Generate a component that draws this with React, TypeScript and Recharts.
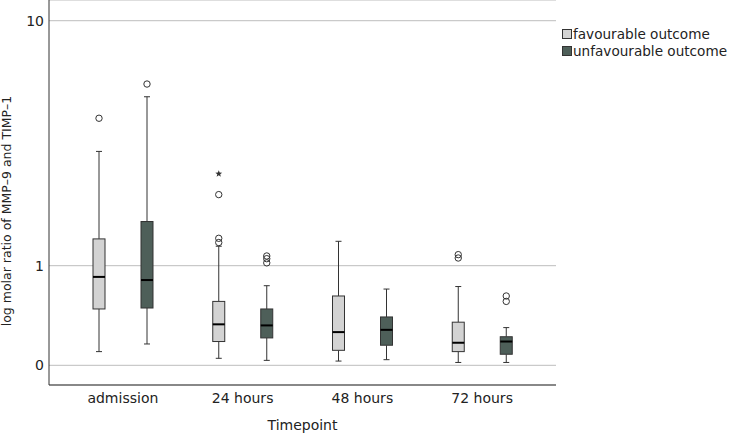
import React from "react";
import { ComposedChart, Bar, XAxis, YAxis, CartesianGrid } from "recharts";

// timepoints
const categories = ["admission", "24 hours", "48 hours", "72 hours"];

// favourable outcome: whiskers, quartiles, median, outliers (o) and extremes (*)
const favLow = [0.1, 0.05, 0.03, 0.02];
const favQ1 = [0.48, 0.18, 0.11, 0.1];
const favMed = [0.85, 0.33, 0.26, 0.17];
const favQ3 = [1.41, 0.56, 0.62, 0.35];
const favHigh = [3.43, 1.29, 1.37, 0.73];
const favOutliers = [[4.58], [2.28, 1.42, 1.35], [], [1.16, 1.11]];
const favExtremes = [[], [2.79], [], []];

// unfavourable outcome
const unfavLow = [0.16, 0.035, 0.04, 0.02];
const unfavQ1 = [0.49, 0.21, 0.15, 0.08];
const unfavMed = [0.81, 0.32, 0.28, 0.18];
const unfavQ3 = [1.72, 0.48, 0.4, 0.22];
const unfavHigh = [5.48, 0.74, 0.7, 0.3];
const unfavOutliers = [[6.08], [1.14, 1.1, 1.04], [], [0.62, 0.56]];
const unfavExtremes = [[], [], [], []];

const yTickValues = [0, 1, 10];

const FAV = "#d3d3d3";
const UNFAV = "#4e5f59";
const INK = "#333";
const FONT = "DejaVu Sans, sans-serif";

// axis is log10(1 + x)
const tf = (v: number) => Math.log10(1 + v);
const inv = (t: number) => Math.round(Math.pow(10, t) - 1);

const data = categories.map((name, i) => ({
  name,
  fav: [tf(favQ1[i]), tf(favQ3[i])],
  favStats: { low: favLow[i], q1: favQ1[i], med: favMed[i], q3: favQ3[i], high: favHigh[i], out: favOutliers[i], ext: favExtremes[i] },
  unfav: [tf(unfavQ1[i]), tf(unfavQ3[i])],
  unfavStats: { low: unfavLow[i], q1: unfavQ1[i], med: unfavMed[i], q3: unfavQ3[i], high: unfavHigh[i], out: unfavOutliers[i], ext: unfavExtremes[i] },
}));

function starPath(cx: number, cy: number, r: number) {
  const pts: string[] = [];
  for (let k = 0; k < 10; k++) {
    const rr = k % 2 === 0 ? r : r * 0.42;
    const a = -Math.PI / 2 + (k * Math.PI) / 5;
    pts.push(`${cx + rr * Math.cos(a)},${cy + rr * Math.sin(a)}`);
  }
  return `M${pts.join("L")}Z`;
}

const makeBox = (key: "favStats" | "unfavStats", fill: string) => (props: any) => {
  const { x, y, width, height, payload } = props;
  const s = payload[key];
  const top = Math.min(y, y + height);
  const h = Math.abs(height);
  const ppu = h / (tf(s.q3) - tf(s.q1));
  const py = (v: number) => top + (tf(s.q3) - tf(v)) * ppu;
  const cx = x + width / 2;
  const cap = 3;
  return (
    <g>
      <line x1={cx} x2={cx} y1={py(s.high)} y2={top} stroke={INK} />
      <line x1={cx - cap} x2={cx + cap} y1={py(s.high)} y2={py(s.high)} stroke={INK} />
      <line x1={cx} x2={cx} y1={top + h} y2={py(s.low)} stroke={INK} />
      <line x1={cx - cap} x2={cx + cap} y1={py(s.low)} y2={py(s.low)} stroke={INK} />
      <rect x={x} y={top} width={width} height={h} fill={fill} stroke={INK} strokeWidth={1} />
      <line x1={x} x2={x + width} y1={py(s.med)} y2={py(s.med)} stroke="#000" strokeWidth={2} />
      {s.out.map((v: number, i: number) => (
        <circle key={"o" + i} cx={cx} cy={py(v)} r={3.2} fill="none" stroke={INK} strokeWidth={1} />
      ))}
      {s.ext.map((v: number, i: number) => (
        <path key={"e" + i} d={starPath(cx, py(v), 3.6)} fill={INK} />
      ))}
    </g>
  );
};

const legendItems = [
  { label: "favourable outcome", color: FAV },
  { label: "unfavourable outcome", color: UNFAV },
];

function LegendBox() {
  return (
    <div style={{ position: "absolute", left: 562, top: 26, fontFamily: FONT, fontSize: 13.6, color: "#222" }}>
      {legendItems.map((it) => (
        <div key={it.label} style={{ display: "flex", alignItems: "center", height: 16.5 }}>
          <span style={{ width: 8, height: 8, background: it.color, border: `1px solid ${INK}`, marginRight: 1 }} />
          <span style={{ whiteSpace: "nowrap" }}>{it.label}</span>
        </div>
      ))}
    </div>
  );
}

export default function App() {
  return (
    <div style={{ position: "fixed", left: 0, top: 0, width: 731, height: 435, background: "#fff", overflow: "hidden" }}>
      <ComposedChart
        width={731}
        height={435}
        data={data}
        margin={{ top: 0, right: 175, left: 0, bottom: 0 }}
        barSize={12}
        barGap={36}
      >
        <CartesianGrid horizontal vertical={false} stroke="#bdbdbd" />
        <XAxis
          dataKey="name"
          height={50}
          padding={{ left: 14, right: 14 }}
          tickLine={false}
          tickSize={0}
          tickMargin={8}
          axisLine={{ stroke: INK }}
          tick={{ fontSize: 14, fontFamily: FONT, fill: "#222" }}
          label={(p: any) => (
            <text
              x={p.viewBox.x + p.viewBox.width / 2}
              y={p.viewBox.y + 45}
              textAnchor="middle"
              fontSize={14}
              fontFamily={FONT}
              fill="#222"
            >
              Timepoint
            </text>
          )}
        />
        <YAxis
          type="number"
          width={49}
          domain={[-0.0595, 1.104]}
          ticks={yTickValues.map(tf)}
          tickFormatter={(t: number) => String(inv(t))}
          allowDataOverflow
          tickLine={false}
          tickSize={0}
          tickMargin={5}
          axisLine={{ stroke: INK }}
          tick={{ fontSize: 14, fontFamily: FONT, fill: "#222" }}
          label={() => (
            <text
              transform="translate(11, 211) rotate(-90)"
              textAnchor="middle"
              fontSize={12.5}
              fontFamily={FONT}
              fill="#222"
            >
              log molar ratio of MMP–9 and TIMP–1
            </text>
          )}
        />
        <Bar dataKey="fav" name="favourable outcome" fill={FAV} shape={makeBox("favStats", FAV)} isAnimationActive={false} />
        <Bar dataKey="unfav" name="unfavourable outcome" fill={UNFAV} shape={makeBox("unfavStats", UNFAV)} isAnimationActive={false} />
      </ComposedChart>
      <LegendBox />
    </div>
  );
}
